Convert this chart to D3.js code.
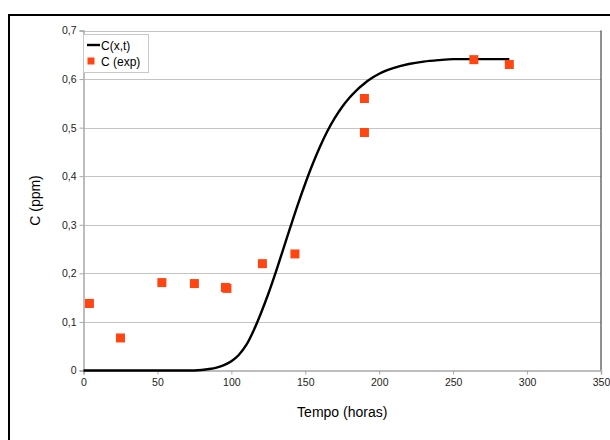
<!DOCTYPE html>
<html>
<head>
<meta charset="utf-8">
<script src="https://cdn.jsdelivr.net/npm/d3@7"></script>
<style>
  body { margin: 0; background: #fff; }
  text { font-family: "Liberation Sans", Arial, sans-serif; }
</style>
</head>
<body>
<div id="chart"></div>
<script>
// modelled curve C(x,t)
var curveT = [0, 40, 75, 80, 85, 90, 95, 100, 105, 110, 115, 120, 125, 130, 135, 140, 145, 150, 155, 160, 165, 170, 175, 180, 185, 190, 195, 200, 210, 220, 230, 240, 250, 270, 288];
var curveC = [0, 0, 0, 0.001, 0.003, 0.006, 0.011, 0.019, 0.032, 0.052, 0.082, 0.118, 0.158, 0.202, 0.249, 0.296, 0.342, 0.385, 0.425, 0.461, 0.493, 0.52, 0.543, 0.562, 0.578, 0.591, 0.602, 0.611, 0.623, 0.631, 0.636, 0.639, 0.641, 0.641, 0.641];

// experimental points C (exp)
var expT = [4, 25, 53, 75, 96, 97, 121, 143, 190, 190, 264, 288];
var expC = [0.138, 0.067, 0.181, 0.179, 0.171, 0.169, 0.22, 0.24, 0.56, 0.49, 0.64, 0.63];

var xTicks = [0, 50, 100, 150, 200, 250, 300, 350];
var yTicks = [0, 0.1, 0.2, 0.3, 0.4, 0.5, 0.6, 0.7];

var width = 610, height = 440;
var margin = {left: 83.5, right: 9, top: 30.5, bottom: 69.5};

var svg = d3.select("#chart").append("svg")
    .attr("width", width)
    .attr("height", height);

// outer chart border
svg.append("rect")
    .attr("x", 9).attr("y", 15)
    .attr("width", 640).attr("height", 460)
    .attr("fill", "none")
    .attr("stroke", "#000")
    .attr("stroke-width", 2);

var x = d3.scaleLinear().domain([0, 350]).range([margin.left, width - margin.right]);
var y = d3.scaleLinear().domain([0, 0.7]).range([height - margin.bottom, margin.top]);

var fmt = function(d){ return d3.format(".1~f")(d).replace(".", ","); };

// gridlines
svg.append("g").selectAll("line")
    .data(yTicks.slice(1))
    .enter().append("line")
    .attr("x1", x(0)).attr("x2", x(350))
    .attr("y1", function(d){ return Math.round(y(d)) + 0.5; })
    .attr("y2", function(d){ return Math.round(y(d)) + 0.5; })
    .attr("stroke", "#c4c4c4")
    .attr("stroke-width", 1.2);

// right edge of plot area
svg.append("line")
    .attr("x1", x(350)).attr("x2", x(350))
    .attr("y1", y(0.7)).attr("y2", y(0))
    .attr("stroke", "#222");

// axes
var yAxis = svg.append("g")
    .attr("transform", "translate(" + x(0) + ",0)")
    .call(d3.axisLeft(y).tickValues(yTicks).tickFormat(function(d){ return d === 0 ? "0" : fmt(d); }).tickSizeOuter(0).tickSize(4).tickPadding(3));

var xAxis = svg.append("g")
    .attr("transform", "translate(0," + y(0) + ")")
    .call(d3.axisBottom(x).tickValues(xTicks).tickFormat(d3.format("d")).tickSizeOuter(0).tickSize(4).tickPadding(4));

[yAxis, xAxis].forEach(function(a){
    a.select(".domain").attr("stroke", "#a8a8a8").attr("stroke-width", 1.5);
    a.selectAll(".tick line").attr("stroke", "#a8a8a8");
    a.selectAll("text").attr("fill", "#222").style("font-size", "10.5px")
        .style("font-family", "'Liberation Sans', Arial, sans-serif");
});

// curve
var line = d3.line()
    .x(function(d){ return x(d[0]); })
    .y(function(d){ return y(d[1]); })
    .curve(d3.curveMonotoneX);

svg.append("path")
    .datum(d3.zip(curveT, curveC))
    .attr("d", line)
    .attr("fill", "none")
    .attr("stroke", "#000")
    .attr("stroke-width", 2.4);

// experimental points
var sq = 9;
svg.append("g").selectAll("rect")
    .data(d3.zip(expT, expC))
    .enter().append("rect")
    .attr("x", function(d){ return x(d[0]) - sq / 2; })
    .attr("y", function(d){ return y(d[1]) - sq / 2; })
    .attr("width", sq).attr("height", sq)
    .attr("fill", "#ff4612");

// legend
var lg = svg.append("g");
lg.append("rect")
    .attr("x", 83.5).attr("y", 34.5)
    .attr("width", 65).attr("height", 38)
    .attr("fill", "#fff")
    .attr("stroke", "#c8c8c8");
lg.append("line")
    .attr("x1", 87).attr("x2", 100)
    .attr("y1", 45).attr("y2", 45)
    .attr("stroke", "#000").attr("stroke-width", 2.4);
lg.append("text").attr("x", 101).attr("y", 49.5)
    .style("font-size", "12px").text("C(x,t)");
lg.append("rect")
    .attr("x", 87.5).attr("y", 57.5)
    .attr("width", 7).attr("height", 7)
    .attr("fill", "#ff4612");
lg.append("text").attr("x", 101).attr("y", 66)
    .style("font-size", "12px").text("C (exp)");

// axis titles
svg.append("text")
    .attr("x", (x(0) + x(350)) / 2)
    .attr("y", 417)
    .attr("text-anchor", "middle")
    .style("font-size", "14px")
    .text("Tempo (horas)");

svg.append("text")
    .attr("transform", "translate(40," + (y(0.35)) + ") rotate(-90)")
    .attr("text-anchor", "middle")
    .style("font-size", "14px")
    .text("C (ppm)");
</script>
</body>
</html>
